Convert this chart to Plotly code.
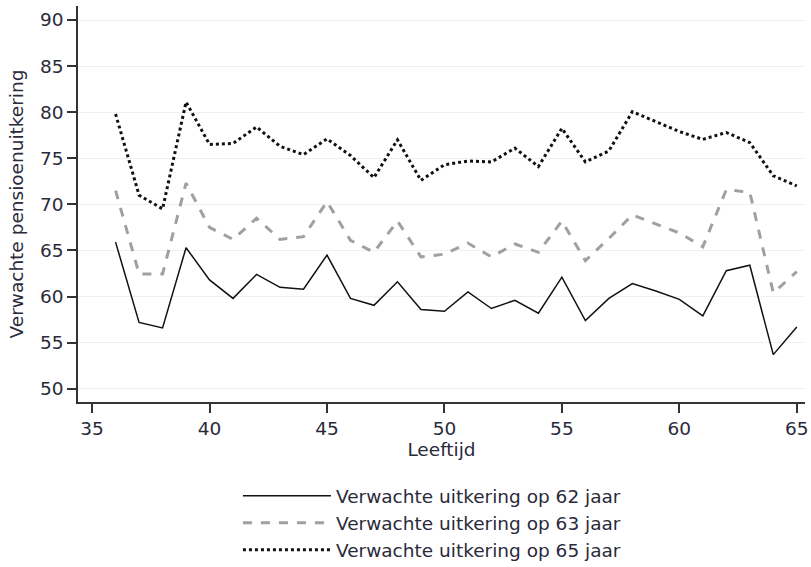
import plotly.graph_objects as go

leeftijd = list(range(36, 66))

uitkering_62 = [65.9, 57.2, 56.6, 65.3, 61.8, 59.8, 62.4, 61.0, 60.8, 64.5,
                59.8, 59.05, 61.6, 58.6, 58.4, 60.5, 58.7, 59.6, 58.2, 62.1,
                57.4, 59.8, 61.4, 60.6, 59.7, 57.9, 62.8, 63.4, 53.7, 56.7]

uitkering_63 = [71.5, 62.45, 62.45, 72.3, 67.5, 66.2, 68.5, 66.2, 66.5, 70.3,
                66.1, 64.8, 68.2, 64.3, 64.6, 65.8, 64.3, 65.7, 64.8, 68.2,
                63.9, 66.3, 68.85, 67.9, 66.9, 65.4, 71.6, 71.3, 60.4, 62.7]

uitkering_65 = [79.8, 71.0, 69.5, 81.1, 76.5, 76.6, 78.4, 76.3, 75.4, 77.1,
                75.3, 72.9, 77.0, 72.6, 74.3, 74.7, 74.6, 76.1, 74.1, 78.25,
                74.6, 75.8, 80.05, 79.0, 77.9, 77.05, 77.8, 76.7, 73.1, 72.0]

namen = ["Verwachte uitkering op 62 jaar",
         "Verwachte uitkering op 63 jaar",
         "Verwachte uitkering op 65 jaar"]

x_ticks = [35, 40, 45, 50, 55, 60, 65]
y_ticks = [50, 55, 60, 65, 70, 75, 80, 85, 90]

font_fam = "DejaVu Sans, Arial, sans-serif"
txt = "#2a2a3a"
fs = 18.5

fig = go.Figure()
fig.add_trace(go.Scatter(x=leeftijd, y=uitkering_62, mode="lines", name=namen[0],
                         line=dict(color="#111111", width=1.5)))
fig.add_trace(go.Scatter(x=leeftijd, y=uitkering_63, mode="lines", name=namen[1],
                         line=dict(color="#a0a0a0", width=3, dash="dash")))
fig.add_trace(go.Scatter(x=leeftijd, y=uitkering_65, mode="lines", name=namen[2],
                         line=dict(color="#111111", width=3, dash="dot")))

fig.update_layout(
    width=811, height=567,
    margin=dict(l=78, r=6, t=6, b=165, autoexpand=False),
    paper_bgcolor="white", plot_bgcolor="white",
    font=dict(family=font_fam, size=fs, color=txt),
    showlegend=True,
    legend=dict(x=0.22, xanchor="left", y=-0.19, yanchor="top",
                orientation="v", font=dict(size=fs, color=txt),
                tracegroupgap=0, itemwidth=88, bgcolor="rgba(0,0,0,0)"),
    xaxis=dict(range=[34.40, 65.35], tickvals=x_ticks, ticks="outside", ticklen=9,
               tickwidth=1.5, tickcolor="#333333", showline=True, linecolor="#333333",
               linewidth=1.5, showgrid=False, zeroline=False,
               tickfont=dict(size=fs, color=txt),
               title=dict(text="Leeftijd", standoff=2, font=dict(size=fs, color=txt))),
    yaxis=dict(range=[48.56, 91.52], tickvals=y_ticks, ticks="outside", ticklen=9,
               tickwidth=1.5, tickcolor="#333333", showline=True, linecolor="#333333",
               linewidth=1.5, showgrid=True, gridcolor="#eaf2f3", gridwidth=1,
               zeroline=False, tickfont=dict(size=fs, color=txt),
               title=dict(text="Verwachte pensioenuitkering", standoff=12,
                          font=dict(size=fs, color=txt))),
)

fig.write_html("out.html", config={"displayModeBar": False},
               post_script="document.body.style.margin='0';")
